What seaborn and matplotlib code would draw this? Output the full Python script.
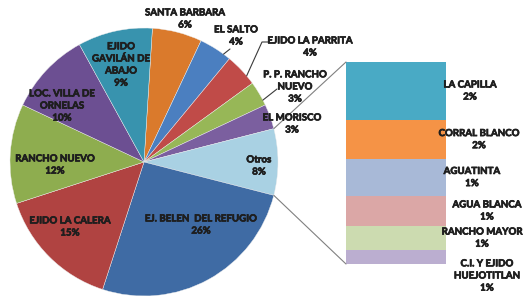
import numpy as np
import matplotlib
matplotlib.use("Agg")
import matplotlib.pyplot as plt
import matplotlib.patheffects as pe
import seaborn as sns

# Datos del pastel (orden de Excel, en sentido horario desde arriba)
pie_names = ["SANTA BARBARA", "EL SALTO", "EJIDO LA PARRITA", "P. P. RANCHO\nNUEVO",
             "EL MORISCO", "Otros", "EJ. BELEN  DEL REFUGIO", "EJIDO LA CALERA",
             "RANCHO NUEVO", "LOC. VILLA DE\nORNELAS", "EJIDO\nGAVILÁN DE\nABAJO"]
pie_values = [6, 4, 4, 3, 3, 8, 26, 15, 12, 10, 9]

# Desglose de "Otros" (de arriba hacia abajo)
bar_names = ["LA CAPILLA", "CORRAL BLANCO", "AGUATINTA", "AGUA BLANCA",
             "RANCHO MAYOR", "C.I. Y EJIDO\nHUEJOTITLAN"]
bar_values = [2.3, 1.55, 1.45, 1.2, 0.95, 0.55]

pie_colors = ["#DA7A2C", "#4B7FC0", "#C04B48", "#97B757", "#7B5F9F", "#A9D1E3",
              "#3F6BA4", "#B04341", "#8EAD4F", "#6C4F92", "#3893AE"]
bar_colors = ["#49AAC5", "#F59346", "#A8B9D7", "#DBA7A6", "#CCDBB0", "#BBAED0"]

# posiciones de etiquetas en pixeles (centro)
pie_label_xy = [(185, 19), (236, 36), (310, 47), (295, 87), (292, 124), (259, 166),
                (201, 225), (70, 227), (55, 165), (62, 106), (121, 65)]
bar_label_x = [470, 479, 472, 487, 482, 487]
leaders = {1: (53.6, [(230, 49)]), 2: (40.0, [(262, 42), (268, 42)]), 3: (27.5, [(277, 89)])}

W, H = 525, 296
cx, cy, R = 144, H - 162, 134
bar_x, bar_w, bar_bottom, bar_h = 396, 100, H - 264, 202

sns.set_theme(style="white")
plt.rcParams["font.family"] = ["Lato", "DejaVu Sans"]

fig = plt.figure(figsize=(W / 100, H / 100), dpi=100)
ax = fig.add_axes([0, 0, 1, 1])

total = sum(pie_values)
i_otros = pie_names.index("Otros")
start = (sum(pie_values[:i_otros]) + pie_values[i_otros] / 2) / total * 360

wedges, _ = ax.pie(pie_values, colors=pie_colors, startangle=start, counterclock=False,
                   center=(cx, cy), radius=R,
                   wedgeprops=dict(edgecolor="#EEEEEE", linewidth=0.3))

txt = dict(fontsize=7, fontweight="bold", color="#1E1E1E", ha="center", va="center",
           linespacing=1.45,
           path_effects=[pe.withStroke(linewidth=0.5, foreground="#1E1E1E")])
for name, v, (px, py) in zip(pie_names, pie_values, pie_label_xy):
    ax.text(px, H - py, f"{name}\n{v / total * 100:.0f}%", **txt)

for i, (ang, pts) in leaders.items():
    a = np.deg2rad(ang)
    xs = [cx + R * np.cos(a)] + [p[0] for p in pts]
    ys = [cy + R * np.sin(a)] + [H - p[1] for p in pts]
    ax.plot(xs, ys, color="#3A3A3A", lw=0.8)

# barra apilada de "Otros"
scale = bar_h / sum(bar_values)
bottom = bar_bottom + bar_h
for name, v, c, lx in zip(bar_names, bar_values, bar_colors, bar_label_x):
    h = v * scale
    bottom -= h
    ax.bar(bar_x, h, width=bar_w, bottom=bottom, color=c, linewidth=0)
    ly = bottom + h / 2
    if "\n" in name:
        ly = bottom - 12
    ax.text(lx, ly, f"{name}\n{v / total * 100:.0f}%", **txt)

# lineas de conexion
half = pie_values[i_otros] / total * 180
for sgn, yb in [(1, bar_bottom + bar_h), (-1, bar_bottom)]:
    a = np.deg2rad(sgn * half)
    ax.plot([cx + R * np.cos(a), bar_x - bar_w / 2], [cy + R * np.sin(a), yb],
            color="#808080", lw=0.8)

ax.set_xlim(0, W)
ax.set_ylim(0, H)
ax.set_aspect("equal")
ax.axis("off")
fig.savefig("out.png", dpi=100, facecolor="white")
